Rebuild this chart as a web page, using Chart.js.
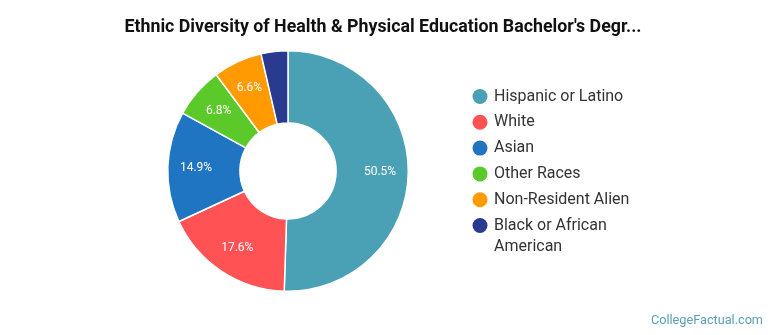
<!DOCTYPE html>
<html>
<head>
<meta charset="utf-8">
<script src="https://cdn.jsdelivr.net/npm/chart.js@4"></script>
<style>
  html, body { margin: 0; padding: 0; background: #fff; }
  #wrap { width: 770px; height: 335px; position: relative; }
</style>
</head>
<body>
<div id="wrap"><canvas id="chart"></canvas></div>
<script>
const titleText = "Ethnic Diversity of Health & Physical Education Bachelor's Degr...";
const categories = ["Hispanic or Latino", "White", "Asian", "Other Races", "Non-Resident Alien", "Black or African American"];
const legendLines = [["Hispanic or Latino"], ["White"], ["Asian"], ["Other Races"], ["Non-Resident Alien"], ["Black or African", "American"]];
const shares = [50.5, 17.6, 14.9, 6.8, 6.6, 3.6];
const labelTexts = ["50.5%", "17.6%", "14.9%", "6.8%", "6.6%", ""];
const colors = ["#4aa0b5", "#ff5254", "#1f75c1", "#5cc92a", "#ff9a00", "#2a3a8f"];

// title, legend, labels and watermark drawn by hand
const extras = {
    id: "extras",
    afterDraw(chart) {
        const ctx = chart.ctx;
        ctx.save();

        // slice labels
        const meta = chart.getDatasetMeta(0);
        ctx.fillStyle = "#fff";
        ctx.font = "12px Roboto";
        ctx.textAlign = "center";
        ctx.textBaseline = "middle";
        meta.data.forEach((arc, i) => {
            if (!labelTexts[i]) return;
            const mid = (arc.startAngle + arc.endAngle) / 2;
            const r = 92;
            ctx.fillText(labelTexts[i], arc.x + Math.cos(mid) * r, arc.y + Math.sin(mid) * r);
        });

        // title
        ctx.fillStyle = "#111";
        ctx.font = "bold 17.8px Roboto";
        ctx.fillText(titleText, 383, 28);

        // legend
        ctx.textAlign = "left";
        ctx.font = "16px Roboto";
        let y = 96.5;
        legendLines.forEach((lines, i) => {
            ctx.fillStyle = colors[i];
            ctx.beginPath();
            ctx.arc(480, y, 7.5, 0, Math.PI * 2);
            ctx.fill();
            ctx.fillStyle = "#333";
            lines.forEach((t, j) => ctx.fillText(t, 494, y + j * 21));
            y += 25.8;
        });

        // watermark
        ctx.textAlign = "right";
        ctx.font = "12.7px Roboto";
        ctx.fillStyle = "#5a9fb5";
        ctx.fillText("CollegeFactual.com", 763, 321);
        ctx.restore();
    }
};

new Chart(document.getElementById("chart"), {
    type: "doughnut",
    data: {
        labels: categories,
        datasets: [{
            data: shares,
            backgroundColor: colors,
            borderColor: "#fff",
            borderWidth: 1.5
        }]
    },
    options: {
        responsive: true,
        maintainAspectRatio: false,
        animation: false,
        cutout: "40%",
        layout: { padding: { left: 167, right: 361, top: 50, bottom: 43 } },
        plugins: { legend: { display: false }, tooltip: { enabled: false } }
    },
    plugins: [extras]
});
</script>
</body>
</html>
